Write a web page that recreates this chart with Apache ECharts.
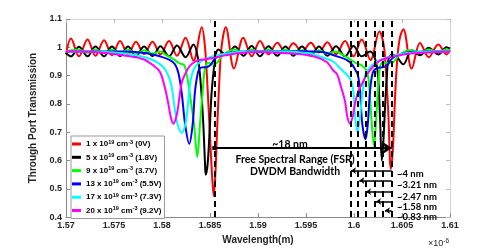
<!DOCTYPE html>
<html><head><meta charset="utf-8">
<script src="https://cdn.jsdelivr.net/npm/echarts@6/dist/echarts.min.js"></script>
<style>html,body{margin:0;padding:0;background:#fff}#c{width:498px;height:250px}</style>
</head><body><div id="c"></div>
<script>
// wavelength in nm (axis shows micrometres x10^-6 m), transmission
const red_0V = [
[1570.00,0.975],[1570.52,1.031],[1571.35,0.968],[1572.24,1.028],[1573.07,0.970],[1573.96,1.025],
[1574.79,0.972],[1575.63,1.022],[1576.46,0.975],[1577.29,1.020],[1578.13,0.976],[1579.01,1.020],
[1579.84,0.975],[1580.73,1.022],[1581.56,0.970],[1582.45,1.034],[1583.28,0.953],[1584.14,1.071],
[1584.48,1.00],[1584.74,0.86],[1584.95,0.72],[1585.16,0.58],[1585.39,0.475],[1585.57,0.56],
[1585.73,0.70],[1585.94,0.86],[1586.20,1.00],[1586.64,1.071],[1587.50,0.925],[1588.47,1.034],
[1589.34,0.968],[1590.21,1.022],[1591.09,0.975],[1592.01,1.016],[1592.86,0.982],[1593.68,1.014],
[1594.58,0.984],[1595.49,1.016],[1596.35,0.982],[1597.22,1.018],[1598.13,0.976],[1599.06,1.022],
[1599.95,0.968],[1600.80,1.028],[1601.72,0.955],[1602.64,1.056],[1603.13,1.00],[1603.39,0.88],
[1603.58,0.764],[1603.83,0.57],[1603.96,0.60],[1604.10,0.673],[1604.27,0.82],[1604.51,0.96],
[1604.79,1.035],[1605.14,1.064],[1606.01,0.925],[1606.88,1.015],[1607.78,0.965],[1608.78,1.01],
[1609.64,0.975],[1610.00,0.99]
];
const black_1p8V = [
[1570.00,0.98],[1570.52,0.968],[1571.35,1.002],[1572.24,0.968],[1573.07,1.003],[1573.96,0.968],
[1574.79,1.003],[1575.63,0.969],[1576.46,1.003],[1577.29,0.969],[1578.13,1.003],[1579.01,0.969],
[1579.84,1.004],[1580.73,0.968],[1581.56,1.006],[1582.45,0.965],[1583.28,1.01],[1583.75,0.96],
[1584.06,0.86],[1584.30,0.73],[1584.48,0.59],[1584.55,0.55],[1584.76,0.59],[1585.00,0.73],
[1585.18,0.845],[1585.52,0.955],[1585.86,0.992],[1586.72,0.972],[1587.60,1.003],[1588.49,0.970],
[1589.34,1.005],[1590.21,0.968],[1591.09,1.004],[1592.01,0.970],[1592.86,1.003],[1593.68,0.970],
[1594.58,1.003],[1595.49,0.970],[1596.35,1.003],[1597.22,0.970],[1598.13,1.004],[1599.06,0.968],
[1599.95,1.005],[1600.80,0.968],[1601.67,0.985],[1602.19,0.96],[1602.50,0.90],[1602.71,0.75],
[1602.90,0.60],[1603.07,0.673],[1603.23,0.787],[1603.41,0.89],[1603.58,0.955],[1603.96,0.975],
[1604.38,0.97],[1605.14,0.94],[1606.01,0.99],[1606.88,0.972],[1607.78,0.998],[1608.78,0.975],
[1609.64,1.0],[1610.00,0.995]
];
const green_3p7V = [
[1570.00,0.986],[1571.35,0.992],[1572.24,0.981],[1573.07,0.992],[1573.96,0.981],[1574.79,0.992],
[1575.63,0.981],[1576.46,0.992],[1577.29,0.980],[1578.13,0.990],[1579.01,0.978],[1579.84,0.985],
[1580.31,0.975],[1581.18,0.958],[1581.88,0.942],[1582.29,0.938],[1582.60,0.90],[1582.92,0.83],
[1583.33,0.73],[1583.68,0.613],[1583.96,0.73],[1584.24,0.845],[1584.48,0.925],[1584.82,0.945],
[1585.31,0.94],[1585.73,0.945],[1586.25,0.97],[1586.88,0.985],[1587.60,0.992],[1588.49,0.982],
[1589.34,0.992],[1590.21,0.982],[1591.09,0.992],[1592.01,0.982],[1592.86,0.991],[1593.68,0.982],
[1594.58,0.99],[1595.49,0.98],[1596.35,0.99],[1597.22,0.978],[1598.13,0.985],[1598.75,0.975],
[1599.58,0.958],[1600.31,0.942],[1600.73,0.938],[1601.35,0.915],[1601.62,0.845],[1601.83,0.74],
[1602.08,0.65],[1602.30,0.74],[1602.48,0.845],[1602.68,0.925],[1602.95,0.945],[1603.75,0.945],
[1604.17,0.95],[1604.69,0.972],[1605.31,0.985],[1606.01,0.99],[1606.88,0.982],[1607.78,0.992],
[1608.78,0.984],[1609.64,0.992],[1610.00,0.99]
];
const blue_5p5V = [
[1570.00,0.985],[1575.63,0.985],[1578.23,0.98],[1579.79,0.968],[1580.83,0.955],[1581.35,0.94],
[1581.70,0.91],[1582.05,0.84],[1582.40,0.73],[1582.84,0.659],[1583.20,0.73],[1583.44,0.845],
[1583.78,0.915],[1584.06,0.928],[1584.66,0.93],[1585.00,0.936],[1585.52,0.96],[1586.25,0.974],
[1587.60,0.983],[1590.21,0.986],[1594.38,0.986],[1596.67,0.983],[1598.23,0.968],[1599.27,0.955],
[1599.79,0.94],[1600.14,0.92],[1600.42,0.90],[1600.63,0.845],[1600.86,0.73],[1601.20,0.675],
[1601.44,0.73],[1601.67,0.845],[1601.95,0.91],[1602.29,0.925],[1603.09,0.93],[1603.44,0.936],
[1603.96,0.96],[1604.69,0.974],[1606.04,0.983],[1610.00,0.986]
];
const cyan_7p3V = [
[1570.00,0.985],[1573.54,0.984],[1575.63,0.98],[1577.01,0.974],[1578.41,0.963],[1579.45,0.948],
[1580.14,0.93],[1580.66,0.90],[1581.01,0.86],[1581.30,0.79],[1581.61,0.73],[1582.05,0.698],
[1582.45,0.73],[1582.71,0.80],[1583.02,0.89],[1583.54,0.935],[1584.48,0.958],[1585.52,0.97],
[1587.08,0.98],[1589.17,0.985],[1593.33,0.985],[1594.38,0.982],[1595.45,0.978],[1596.84,0.963],
[1597.89,0.948],[1598.57,0.925],[1599.58,0.89],[1599.93,0.845],[1600.10,0.76],[1600.36,0.70],
[1600.63,0.76],[1600.91,0.845],[1601.15,0.90],[1601.56,0.925],[1602.19,0.945],[1602.92,0.958],
[1603.96,0.97],[1605.52,0.98],[1607.92,0.985],[1610.00,0.986]
];
const magenta_9p2V = [
[1570.00,0.985],[1573.54,0.982],[1576.32,0.97],[1578.05,0.958],[1579.09,0.936],[1579.79,0.913],
[1580.31,0.856],[1580.66,0.80],[1580.94,0.75],[1581.18,0.73],[1581.53,0.76],[1581.80,0.82],
[1582.05,0.875],[1582.40,0.905],[1582.92,0.935],[1583.61,0.952],[1584.48,0.958],[1585.34,0.962],
[1586.74,0.973],[1588.13,0.98],[1590.21,0.983],[1592.60,0.98],[1594.38,0.976],[1596.11,0.965],
[1597.16,0.948],[1597.84,0.918],[1598.23,0.905],[1598.65,0.86],[1599.06,0.81],[1599.30,0.755],
[1599.58,0.73],[1599.86,0.755],[1600.10,0.80],[1600.45,0.845],[1600.97,0.88],[1601.35,0.905],
[1602.08,0.935],[1602.71,0.953],[1603.75,0.965],[1604.48,0.97],[1605.83,0.978],[1610.00,0.984]
];

const seriesNames = ['1e19 (0V)','5e19 (1.8V)','9e19 (3.7V)','13e19 (5.5V)','17e19 (7.3V)','20e19 (9.2V)'];
const legendLabels = [
  '1 x 10{sup|19} cm{sup|-3} (0V)',
  '5 x 10{sup|19} cm{sup|-3} (1.8V)',
  '9 x 10{sup|19} cm{sup|-3} (3.7V)',
  '13 x 10{sup|19} cm{sup|-3} (5.5V)',
  '17 x 10{sup|19} cm{sup|-3} (7.3V)',
  '20 x 10{sup|19} cm{sup|-3} (9.2V)'
];
const seriesColors = ['#ff0000','#000000','#00ff00','#0000ff','#00ffff','#ff00ff'];
const seriesData = [red_0V, black_1p8V, green_3p7V, blue_5p5V, cyan_7p3V, magenta_9p2V];

// resonance marker wavelengths (nm)
const resonanceLines = [1585.45, 1599.69, 1600.42, 1601.25, 1602.14, 1603.02, 1603.94];
// FSR arrow
const fsrArrow = [[1585.45, 0.644], [1603.94, 0.644]];
// shift arrows: right end, left end, level
const shiftArrowStart = [1603.93, 1603.93, 1603.93, 1603.93, 1603.93];
const shiftArrowEnd   = [1599.69, 1600.55, 1601.25, 1602.29, 1603.23];
const shiftArrowLevel = [0.564, 0.529, 0.490, 0.455, 0.423];
const shiftLabels = ['~4 nm','~3.21 nm','~2.47 nm','~1.58 nm','~0.83 nm'];

const chart = echarts.init(document.getElementById('c'), null, {renderer:'canvas'});
const AX = '#8a8a8a';
const LBL = {color:'#262626', fontSize:9, fontWeight:'bold', fontFamily:'Liberation Sans'};

const series = seriesData.map((d, i) => ({
  type:'line', name: seriesNames[i], data: d, xAxisIndex:0, yAxisIndex:0,
  showSymbol:false, symbol:'none', smooth:0.35, clip:true,
  lineStyle:{color: seriesColors[i], width:2}, itemStyle:{color: seriesColors[i]},
  z: 2 + i, silent:true
}));
series.push({
  type:'lines', coordinateSystem:'cartesian2d', xAxisIndex:0, yAxisIndex:0, z:20, silent:true,
  data: resonanceLines.map(x => ({coords:[[x,0.4],[x,1.1]]})),
  lineStyle:{color:'#000', width:2, type:[6,4], opacity:1}, symbol:['none','none']
});
series.push({
  type:'lines', coordinateSystem:'cartesian2d', xAxisIndex:0, yAxisIndex:0, z:21, silent:true,
  data:[{coords: fsrArrow}],
  symbol:['rect','arrow'], symbolSize:[4,9],
  lineStyle:{color:'#000', width:2, opacity:1}, itemStyle:{color:'#000'}
});
series.push({
  type:'lines', coordinateSystem:'cartesian2d', xAxisIndex:0, yAxisIndex:0, z:21, silent:true,
  data: shiftArrowEnd.map((x, i) => ({coords:[[shiftArrowStart[i], shiftArrowLevel[i]], [x, shiftArrowLevel[i]]]})),
  symbol:['none','arrow'], symbolSize:5,
  lineStyle:{color:'#000', width:1.5, opacity:1}, itemStyle:{color:'#000'}
});

const TXT = 'bold 10.5px Lato';
const graphics = [
  {type:'text', x:290, y:145, z:100, style:{text:'~18 nm', font:TXT, fill:'#000', align:'center', verticalAlign:'middle', textAlign:'center', textVerticalAlign:'middle'}},
  {type:'text', x:295, y:160, z:100, style:{text:'Free Spectral Range (FSR)', font:TXT, fill:'#000', align:'center', verticalAlign:'middle', textAlign:'center', textVerticalAlign:'middle'}},
  {type:'text', x:295, y:172, z:100, style:{text:'DWDM Bandwidth', font:TXT, fill:'#000', align:'center', verticalAlign:'middle', textAlign:'center', textVerticalAlign:'middle'}},
  {type:'text', x:428, y:244, z:100, style:{text:'×10{s|-6}', font:'9px Liberation Sans', fill:'#262626', align:'left', verticalAlign:'middle', textAlign:'left', textVerticalAlign:'middle', rich:{s:{fontSize:6.5, fontFamily:'Liberation Sans', fill:'#262626', color:'#262626', verticalAlign:'top', padding:[0,0,6,0]}}}}
];
const shiftY = [173.5, 185, 196.5, 207.3, 217.3];
shiftLabels.forEach((t, i) => graphics.push({type:'text', x:397, y:shiftY[i], z:100,
  style:{text:t, font:'bold 9.5px Lato', fill:'#000', align:'left', verticalAlign:'middle', textAlign:'left', textVerticalAlign:'middle'}}));

chart.setOption({
  animation:false,
  backgroundColor:'#fff',
  grid:{left:66, right:48, top:19, bottom:27, show:false},
  legend:{
    data: seriesNames, orient:'vertical', left:71, top:136,
    padding:[3,3,3,1], itemGap:3.3, itemWidth:9, itemHeight:3, icon:'rect',
    backgroundColor:'#fff', borderColor:'#9a9a9a', borderWidth:1, borderRadius:0,
    formatter: n => legendLabels[seriesNames.indexOf(n)],
    textStyle:{fontSize:8, fontWeight:'bold', fontFamily:'Liberation Sans', color:'#000', lineHeight:10,
      rich:{sup:{fontSize:5.5, fontWeight:'bold', fontFamily:'Liberation Sans', color:'#000', verticalAlign:'top', lineHeight:10}}},
    selectedMode:false
  },
  xAxis:[
    {type:'value', min:1570, max:1610, interval:5, position:'bottom',
     axisLine:{show:true, onZero:false, lineStyle:{color:AX, width:1}},
     axisTick:{show:true, inside:true, length:4, lineStyle:{color:AX}},
     axisLabel:Object.assign({margin:4, formatter:v => String(parseFloat((v/1000).toFixed(3)))}, LBL),
     splitLine:{show:false},
     name:'Wavelength(m)', nameLocation:'middle', nameGap:14,
     nameTextStyle:{color:'#262626', fontSize:10, fontWeight:'bold', fontFamily:'Liberation Sans'}},
    {type:'value', min:1570, max:1610, interval:5, position:'top',
     axisLine:{show:true, onZero:false, lineStyle:{color:'#d4d4d4', width:1}},
     axisTick:{show:true, inside:true, length:4, lineStyle:{color:'#bdbdbd'}},
     axisLabel:{show:false}, splitLine:{show:false}}
  ],
  yAxis:[
    {type:'value', min:0.4, max:1.1, interval:0.1, position:'left',
     axisLine:{show:true, onZero:false, lineStyle:{color:AX, width:1}},
     axisTick:{show:true, inside:true, length:4, lineStyle:{color:AX}},
     axisLabel:Object.assign({margin:4, formatter:v => String(+v.toFixed(1))}, LBL),
     splitLine:{show:false},
     name:'Through Port Transmission', nameLocation:'middle', nameGap:23, nameRotate:90,
     nameTextStyle:{color:'#262626', fontSize:10, fontWeight:'bold', fontFamily:'Liberation Sans'}},
    {type:'value', min:0.4, max:1.1, interval:0.1, position:'right',
     axisLine:{show:true, onZero:false, lineStyle:{color:'#d4d4d4', width:1}},
     axisTick:{show:true, inside:true, length:4, lineStyle:{color:'#bdbdbd'}},
     axisLabel:{show:false}, splitLine:{show:false}}
  ],
  series: series,
  graphic: graphics
});
</script></body></html>
